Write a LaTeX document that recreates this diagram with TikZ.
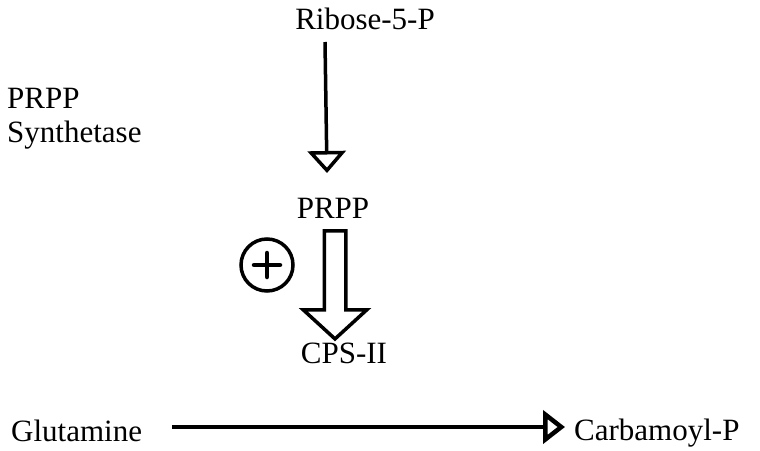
\documentclass[tikz,border=0pt]{standalone}
\usepackage{fontspec}
\setmainfont{Liberation Serif}
\usetikzlibrary{arrows.meta,shapes.arrows}
\begin{document}
\begin{tikzpicture}[x=1pt,y=-1pt,
  lbl/.style={font=\fontsize{31}{35}\selectfont, inner sep=0pt, anchor=base},
  thinarrow/.style={line width=3.5pt, -{Triangle[open,length=22pt,width=38pt,line width=3.5pt]}},
  longarrow/.style={line width=4.5pt, -{Triangle[open,length=22pt,width=33pt,line width=4.5pt]}},
  blockarrow/.style={single arrow, draw, line width=3.5pt, minimum height=108pt,
     single arrow head extend=21pt, single arrow tip angle=95, inner sep=9pt, shape border rotate=270}
]
\useasboundingbox (0,0) rectangle (760,450);
\node[lbl] (ribose) at (365,29) {Ribose-5-P};
\node[lbl, anchor=base west] (synth) at (7,108) {PRPP};
\node[lbl, anchor=base west] (synth2) at (7,142) {Synthetase};
\node[lbl] (prpp) at (333,218) {PRPP};
\node[lbl] (cps) at (344,363) {CPS-II};
\node[lbl, anchor=base west] (glu) at (11,441) {Glutamine};
\node[lbl, anchor=base west] (carb) at (574,440) {Carbamoyl-P};
\coordinate (a1s) at (325,42);
\coordinate (a1e) at (327,173);
\draw[thinarrow] (a1s) -- (a1e);
\node[blockarrow] (block) at (335,280) {};
\node[circle, draw, line width=3.5pt, minimum width=52pt, inner sep=0pt,
  path picture={\draw[line width=4.5pt,line cap=round] ([xshift=-13pt]path picture bounding box.center) -- ([xshift=13pt]path picture bounding box.center);
                \draw[line width=4.5pt,line cap=round] ([yshift=-12pt]path picture bounding box.center) -- ([yshift=12pt]path picture bounding box.center);}]
  (plus) at (267,265) {};
\coordinate (a2s) at (172,427);
\coordinate (a2e) at (565,427);
\draw[longarrow] (a2s) -- (a2e);
\end{tikzpicture}
\end{document}
